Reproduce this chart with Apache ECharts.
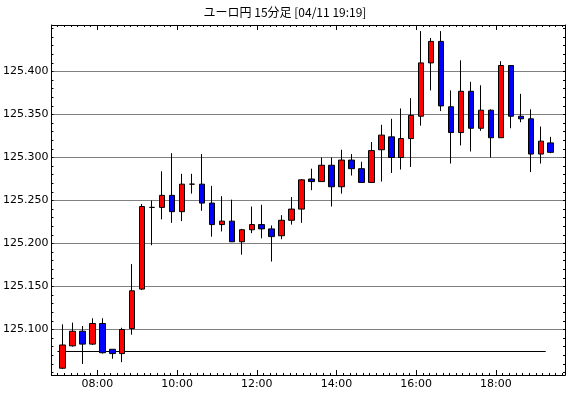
<!DOCTYPE html>
<html>
<head>
<meta charset="utf-8">
<script src="https://cdn.jsdelivr.net/npm/echarts@6.0.0/dist/echarts.min.js"></script>
<style>
  html, body { margin: 0; padding: 0; background: #fff; }
  #chart { width: 570px; height: 398px; }
</style>
</head>
<body>
<div id="chart"></div>
<script>
/* ユーロ円 15分足 */
const chartTitle = 'ユーロ円 15分足 [04/11 19:19]';

// 足の開始時刻
const times = [
  '07:00', '07:15', '07:30', '07:45', '08:00', '08:15', '08:30', '08:45',
  '09:00', '09:15', '09:30', '09:45', '10:00', '10:15', '10:30', '10:45',
  '11:00', '11:15', '11:30', '11:45', '12:00', '12:15', '12:30', '12:45',
  '13:00', '13:15', '13:30', '13:45', '14:00', '14:15', '14:30', '14:45',
  '15:00', '15:15', '15:30', '15:45', '16:00', '16:15', '16:30', '16:45',
  '17:00', '17:15', '17:30', '17:45', '18:00', '18:15', '18:30', '18:45',
  '19:00', '19:15'
];
const opens = [
  125.055, 125.081, 125.098, 125.083, 125.107, 125.077, 125.072, 125.101,
  125.147, 125.242, 125.242, 125.256, 125.237, 125.269, 125.269, 125.247,
  125.222, 125.226, 125.202, 125.216, 125.222, 125.217, 125.209, 125.227,
  125.240, 125.275, 125.272, 125.291, 125.266, 125.297, 125.287, 125.271,
  125.309, 125.324, 125.300, 125.322, 125.348, 125.410, 125.435, 125.359,
  125.329, 125.377, 125.334, 125.355, 125.323, 125.407, 125.348, 125.345,
  125.304, 125.317
];
const closes = [
  125.082, 125.098, 125.083, 125.107, 125.073, 125.072, 125.100, 125.145,
  125.243, 125.242, 125.256, 125.237, 125.269, 125.269, 125.247, 125.222,
  125.226, 125.202, 125.216, 125.222, 125.217, 125.208, 125.227, 125.240,
  125.274, 125.272, 125.291, 125.266, 125.297, 125.287, 125.271, 125.308,
  125.326, 125.300, 125.322, 125.349, 125.410, 125.435, 125.360, 125.329,
  125.377, 125.334, 125.355, 125.323, 125.407, 125.348, 125.345, 125.304,
  125.319, 125.306
];
const lows = [
  125.054, 125.080, 125.060, 125.082, 125.072, 125.066, 125.062, 125.094,
  125.146, 125.198, 125.228, 125.224, 125.226, 125.258, 125.238, 125.208,
  125.214, 125.202, 125.187, 125.212, 125.206, 125.179, 125.205, 125.222,
  125.224, 125.262, 125.272, 125.243, 125.258, 125.279, 125.271, 125.271,
  125.272, 125.282, 125.286, 125.289, 125.337, 125.378, 125.354, 125.293,
  125.314, 125.307, 125.331, 125.300, 125.323, 125.334, 125.341, 125.283,
  125.293, 125.305
];
const highs = [
  125.106, 125.108, 125.104, 125.113, 125.113, 125.077, 125.102, 125.176,
  125.246, 125.250, 125.284, 125.305, 125.281, 125.281, 125.304, 125.267,
  125.255, 125.251, 125.217, 125.243, 125.245, 125.221, 125.233, 125.254,
  125.275, 125.287, 125.300, 125.300, 125.309, 125.304, 125.295, 125.318,
  125.338, 125.345, 125.357, 125.369, 125.447, 125.439, 125.447, 125.378,
  125.413, 125.388, 125.384, 125.356, 125.412, 125.407, 125.374, 125.356,
  125.336, 125.324
];

// 目盛ラベル
const yLabels = [125.100, 125.150, 125.200, 125.250, 125.300, 125.350, 125.400];
const xLabels = ['08:00', '10:00', '12:00', '14:00', '16:00', '18:00'];

// 基準線
const baseLine = 125.0744;
const baseLineFrom = '07:00';
const baseLineTo = '19:15';

// 表示範囲 (グリッド線がピクセルに揃うように)
const Y_MIN = 125.047093;
const Y_MAX = 125.454070;
const X_MIN = 411;
const X_MAX = 1184;

function toMin(t) {
  const [h, m] = t.split(':').map(Number);
  return h * 60 + m;
}
function fmtTime(v) {
  const h = Math.floor(v / 60), m = Math.round(v % 60);
  return String(h).padStart(2, '0') + ':' + String(m).padStart(2, '0');
}

// 15分足の中央に描く
const candleData = times.map((t, i) => [toMin(t) + 7.5, opens[i], closes[i], lows[i], highs[i]]);

const xMajor = xLabels.map(toMin);
const xMinor = [];
for (let v = 420; v <= X_MAX; v += 10) xMinor.push(v);
const yTicks = [];
for (let k = 5; k <= 45; k++) yTicks.push(+(125 + k / 100).toFixed(2));

const black = '#000';
const font = 'DejaVu Sans';

const chart = echarts.init(document.getElementById('chart'), null, { renderer: 'canvas' });

const xBase = {
  type: 'value',
  min: X_MIN,
  max: X_MAX,
  splitLine: { show: false },
  axisLine: { show: true, lineStyle: { color: black, width: 1 } }
};
const yBase = {
  type: 'value',
  min: Y_MIN,
  max: Y_MAX,
  scale: true,
  splitLine: { show: false },
  axisLine: { show: true, lineStyle: { color: black, width: 1 } },
  axisTick: { show: true, inside: true, length: 2, customValues: yTicks, lineStyle: { color: black } }
};

chart.setOption({
  animation: false,
  backgroundColor: '#fff',
  title: {
    text: chartTitle,
    left: 'center',
    top: 1,
    textStyle: { fontSize: 12, fontWeight: 'normal', color: black, fontFamily: 'Noto Sans CJK JP' }
  },
  grid: { left: 49, right: 5, top: 25, bottom: 23 },
  xAxis: [
    {
      ...xBase,
      position: 'bottom',
      axisTick: { show: true, inside: true, length: 5, customValues: xMajor, lineStyle: { color: black } },
      axisLabel: {
        customValues: xMajor,
        formatter: fmtTime,
        color: black,
        fontSize: 11,
        fontFamily: font,
        margin: 4
      }
    },
    {
      ...xBase,
      position: 'bottom',
      axisTick: { show: true, inside: true, length: 2, customValues: xMinor, lineStyle: { color: black } },
      axisLabel: { show: false }
    },
    {
      ...xBase,
      position: 'top',
      axisTick: { show: true, inside: true, length: 5, customValues: xMajor, lineStyle: { color: black } },
      axisLabel: { show: false }
    },
    {
      ...xBase,
      position: 'top',
      axisTick: { show: true, inside: true, length: 2, customValues: xMinor, lineStyle: { color: black } },
      axisLabel: { show: false }
    }
  ],
  yAxis: [
    {
      ...yBase,
      position: 'left',
      axisLabel: {
        customValues: yLabels,
        formatter: v => v.toFixed(3),
        color: black,
        fontSize: 11,
        fontFamily: font,
        margin: 3
      }
    },
    {
      ...yBase,
      position: 'right',
      axisLabel: { show: false }
    }
  ],
  series: [
    {
      type: 'candlestick',
      xAxisIndex: 0,
      yAxisIndex: 0,
      barWidth: 6,
      data: candleData,
      itemStyle: {
        color: '#ff0000',
        color0: '#0000ff',
        borderColor: black,
        borderColor0: black,
        borderColorDoji: black,
        borderWidth: 1
      },
      markLine: {
        silent: true,
        z: 1,
        symbol: ['none', 'none'],
        label: { show: false },
        animation: false,
        data: [
          ...yLabels.map(v => ({ yAxis: v, lineStyle: { color: black, width: 1, type: [1, 1] } })),
          [
            { coord: [toMin(baseLineFrom), baseLine], lineStyle: { color: black, width: 1, type: 'solid' } },
            { coord: [toMin(baseLineTo), baseLine] }
          ]
        ]
      }
    }
  ]
});
</script>
</body>
</html>
